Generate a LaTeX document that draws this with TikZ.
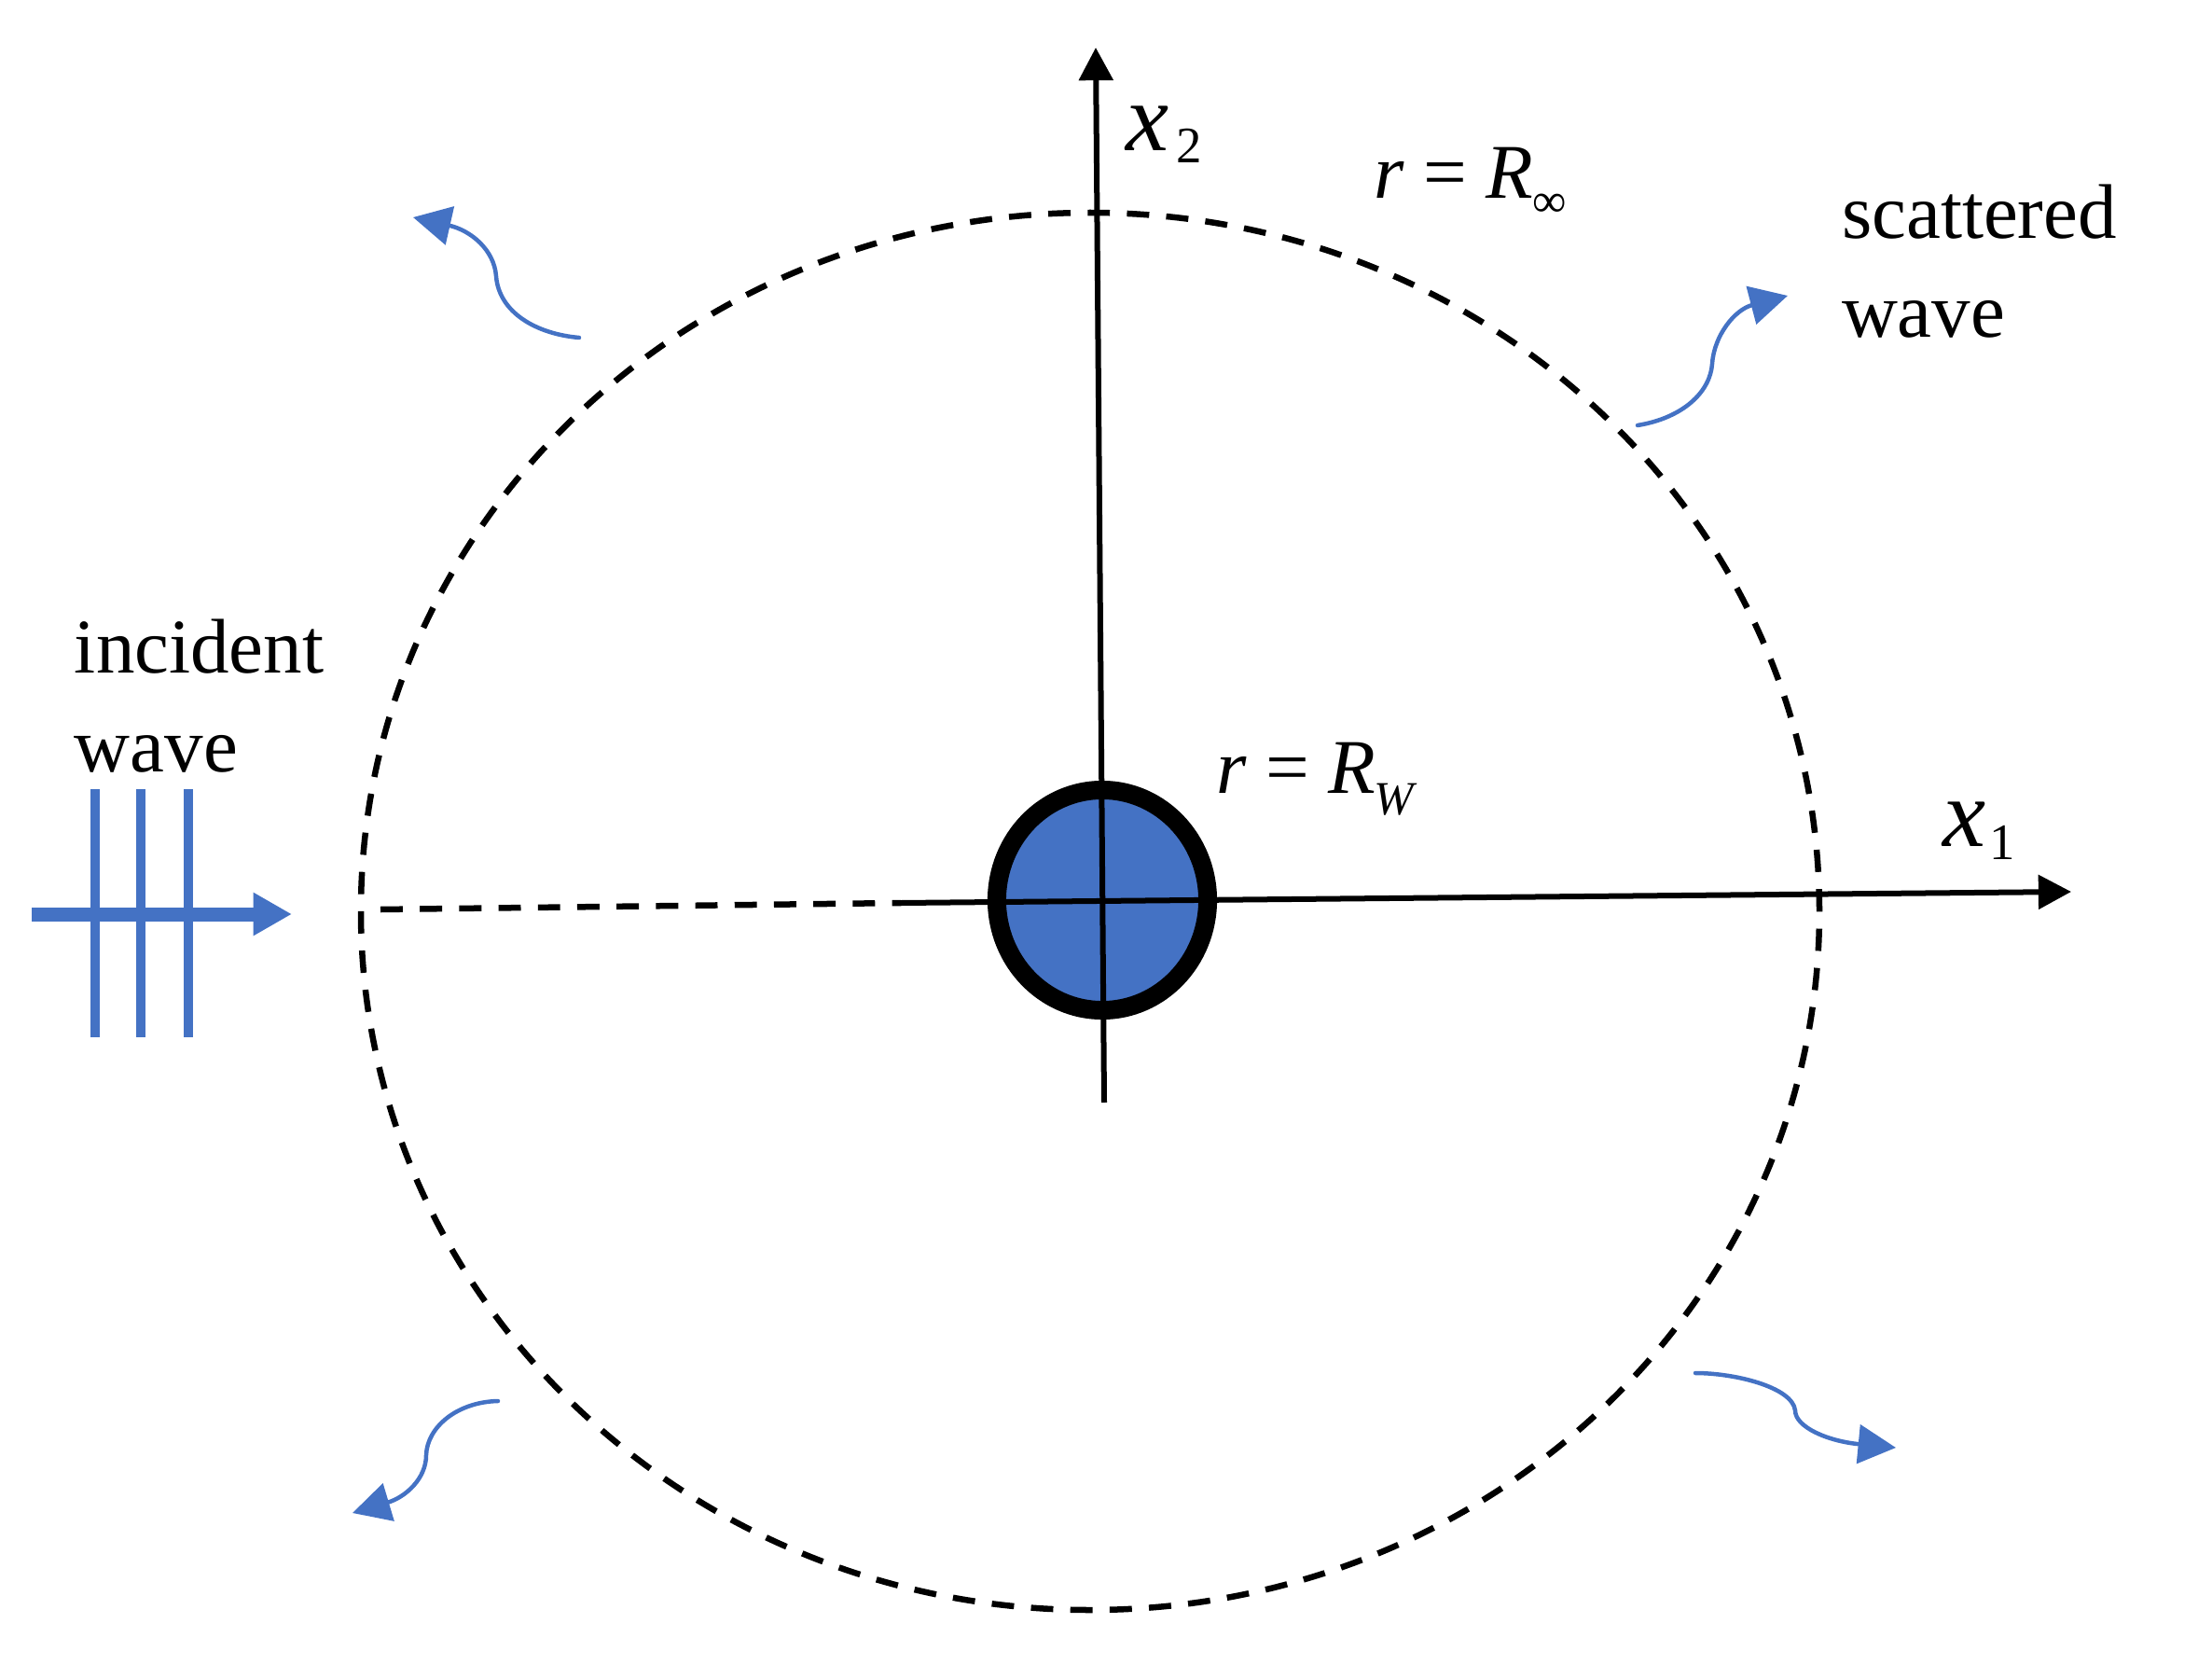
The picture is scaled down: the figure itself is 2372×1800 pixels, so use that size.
\documentclass[tikz,border=0pt]{standalone}
\usepackage{fontspec}
\setmainfont{Liberation Serif}
\usetikzlibrary{arrows.meta,shapes.geometric}
\definecolor{wblue}{HTML}{4472C4}
\tikzset{
  px/.style={line width=#1*0.2845pt},
  axisline/.style={black,px=6,-{Triangle[length=10pt,width=10.2pt]}},
  farfield/.style={black,px=6.5,dash pattern=on 6.8pt off 5.2pt},
  wavefront/.style={wblue,px=9},
  waveray/.style={wblue,px=15,-{Triangle[length=11.8pt,width=12.4pt]}},
  scatterline/.style={wblue,px=4.5,line cap=round,-{Triangle[length=11.5pt,width=11.8pt]}},
  lbl/.style={inner sep=0pt,outer sep=0pt,anchor=base west,font=\fontsize{23.6}{30.1}\selectfont},
  lblbig/.style={inner sep=0pt,outer sep=0pt,anchor=base west,font=\fontsize{29.5}{30}\selectfont\itshape},
  lblsub/.style={inner sep=0pt,outer sep=0pt,anchor=base west,font=\fontsize{15.6}{18}\selectfont},
  lblsubi/.style={inner sep=0pt,outer sep=0pt,anchor=base west,font=\fontsize{14.5}{18}\selectfont\itshape},
}
\begin{document}
\begin{tikzpicture}[x=0.01cm,y=-0.01cm]
\useasboundingbox (0,0) rectangle (2372,1800);
% far-field circle
\coordinate (cc) at (1169,977);
\draw[farfield] (cc) ++(782,0) arc[start angle=0,end angle=-360,x radius=782,y radius=749];
% scatterer
\node[ellipse,draw=black,fill=wblue,px=20,inner sep=0pt,minimum width=2.26cm,minimum height=2.36cm] (scat) at (1182,965) {};
% axes
\coordinate (xstart) at (966,968);
\coordinate (xend) at (2221,956);
\coordinate (ystart) at (1184,1182);
\coordinate (yend) at (1175,51);
\coordinate (dashstart) at (408,975);
\draw[axisline] (xstart) -- (xend);
\draw[axisline] (ystart) -- (yend);
\draw[farfield] (dashstart) -- (xstart);
% incident wave
\coordinate (fa1) at (102,846); \coordinate (fa2) at (102,1112);
\coordinate (fb1) at (151,846); \coordinate (fb2) at (151,1112);
\coordinate (fc1) at (202,846); \coordinate (fc2) at (202,1112);
\coordinate (raystart) at (34,980); \coordinate (rayend) at (313,980);
\draw[wavefront] (fa1) -- (fa2);
\draw[wavefront] (fb1) -- (fb2);
\draw[wavefront] (fc1) -- (fc2);
\draw[waveray] (raystart) -- (rayend);
% scattered arrows
\coordinate (tl0) at (621,362); \coordinate (tl1) at (532,296); \coordinate (tl2) at (443,233);
\draw[scatterline] (tl0) .. controls (575,358) and (535,335) .. (tl1) .. controls (530,268) and (505,247) .. (tl2);
\coordinate (tr0) at (1756,456); \coordinate (tr1) at (1836,390); \coordinate (tr2) at (1917,317);
\draw[scatterline] (tr0) .. controls (1805,448) and (1834,420) .. (tr1) .. controls (1838,360) and (1860,332) .. (tr2);
\coordinate (bl0) at (534,1502); \coordinate (bl1) at (457,1560); \coordinate (bl2) at (378,1622);
\draw[scatterline] (bl0) .. controls (490,1503) and (458,1530) .. (bl1) .. controls (457,1585) and (435,1605) .. (bl2);
\coordinate (br0) at (1818,1472); \coordinate (br1) at (1925,1512); \coordinate (br2) at (2033,1552);
\draw[scatterline] (br0) .. controls (1860,1472) and (1922,1487) .. (br1) .. controls (1925,1530) and (1960,1545) .. (br2);
% labels
\node[lbl,align=left,anchor=north west] (incident) at (80,664) {incident\\wave};
\node[lbl,align=left,anchor=north west] (scattered) at (1975,198) {scattered\\wave};
\node[lblbig] (xtwo) at (1207,162) {x};
\node[lblsub] (xtwosub) at (1261,175) {2};
\node[lblbig] (xone) at (2083,907) {x};
\node[lblsub] (xonesub) at (2133,921) {1};
\node[lbl] (rinf) at (1473,213) {\textit{r} = \textit{R}};
\node[inner sep=0pt,anchor=base west,font=\fontsize{14.5}{18}\selectfont] (rinfsub) at (1643,232) {∞};
\node[lbl] (rw) at (1304,850) {\textit{r} = \textit{R}};
\node[lblsubi] (rwsub) at (1473,873) {W};
\end{tikzpicture}
\end{document}
